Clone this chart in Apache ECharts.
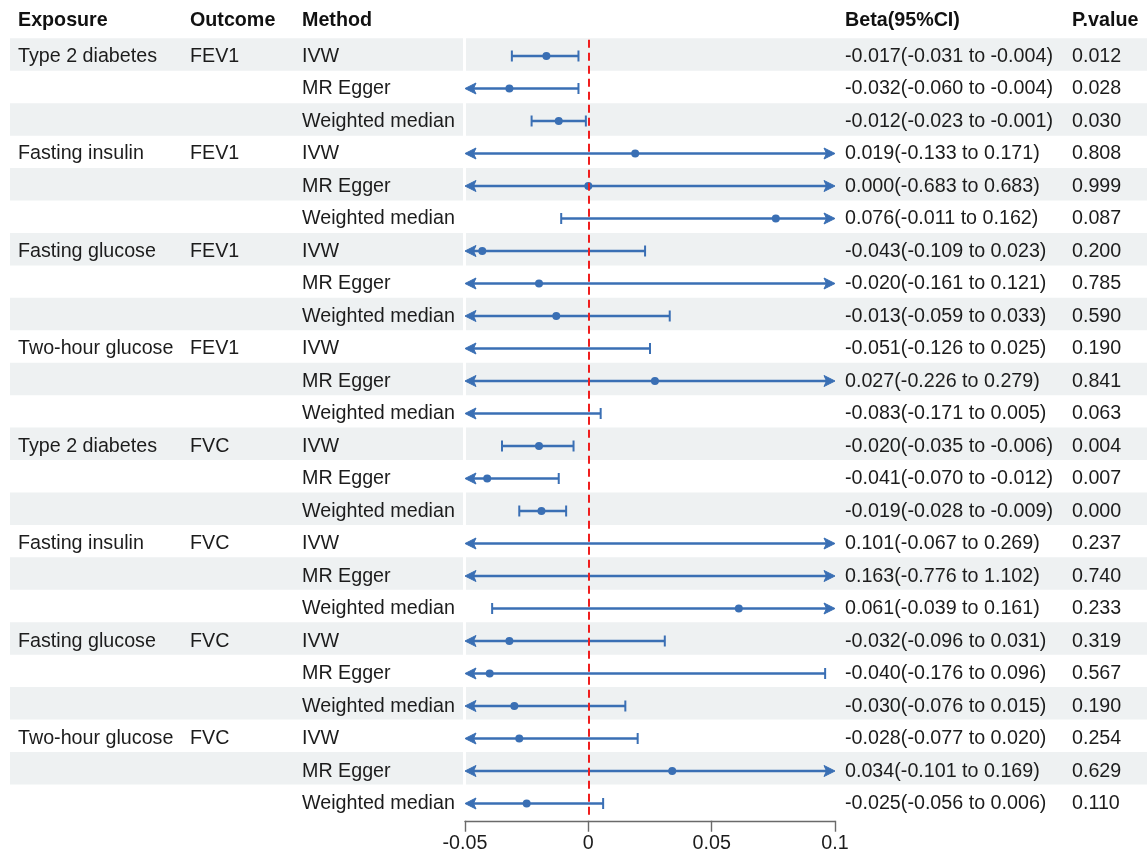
<!DOCTYPE html>
<html>
<head>
<meta charset="utf-8">
<script src="https://cdn.jsdelivr.net/npm/echarts@6/dist/echarts.min.js"></script>
<style>
  html, body { margin: 0; padding: 0; background: #fff; }
  #chart { width: 1147px; height: 856px; }
</style>
</head>
<body>
<div id="chart"></div>
<script>
// 数据
const exposures = ['Type 2 diabetes', 'Fasting insulin', 'Fasting glucose', 'Two-hour glucose',
  'Type 2 diabetes', 'Fasting insulin', 'Fasting glucose', 'Two-hour glucose'];
const outcomes = ['FEV1', 'FEV1', 'FEV1', 'FEV1', 'FVC', 'FVC', 'FVC', 'FVC'];
const methods = ['IVW', 'MR Egger', 'Weighted median'];

const beta = [
  -0.017, -0.032, -0.012,
  0.019, 0.000, 0.076,
  -0.043, -0.020, -0.013,
  -0.051, 0.027, -0.083,
  -0.020, -0.041, -0.019,
  0.101, 0.163, 0.061,
  -0.032, -0.040, -0.030,
  -0.028, 0.034, -0.025
];
const lower = [
  -0.031, -0.060, -0.023,
  -0.133, -0.683, -0.011,
  -0.109, -0.161, -0.059,
  -0.126, -0.226, -0.171,
  -0.035, -0.070, -0.028,
  -0.067, -0.776, -0.039,
  -0.096, -0.176, -0.076,
  -0.077, -0.101, -0.056
];
const upper = [
  -0.004, -0.004, -0.001,
  0.171, 0.683, 0.162,
  0.023, 0.121, 0.033,
  0.025, 0.279, 0.005,
  -0.006, -0.012, -0.009,
  0.269, 1.102, 0.161,
  0.031, 0.096, 0.015,
  0.020, 0.169, 0.006
];
const pValue = [
  '0.012', '0.028', '0.030',
  '0.808', '0.999', '0.087',
  '0.200', '0.785', '0.590',
  '0.190', '0.841', '0.063',
  '0.004', '0.007', '0.000',
  '0.237', '0.740', '0.233',
  '0.319', '0.567', '0.190',
  '0.254', '0.629', '0.110'
];
const xTicks = [-0.05, 0, 0.05, 0.1];

const XMIN = -0.05, XMAX = 0.1;
const FONT = "'Liberation Sans', Arial, sans-serif";
const FS = 19.7;
const BLUE = '#3a6fb4';
const TXT = '#1c1c1c';

const rows = [];
const rowIdx = [];
exposures.forEach((e, g) => {
  methods.forEach((m, k) => {
    const i = g * 3 + k;
    rowIdx.push(i);
    rows.push({
      exposure: k === 0 ? e : '',
      outcome: k === 0 ? outcomes[g] : '',
      method: m,
      ci: beta[i].toFixed(3) + '(' + lower[i].toFixed(3) + ' to ' + upper[i].toFixed(3) + ')',
      p: pValue[i]
    });
  });
});

const chart = echarts.init(document.getElementById('chart'));

// 背景条纹 (稍微上移)
function renderBand(params, api) {
  const i = api.value(0);
  if (i % 2 !== 0) return null;
  const c = api.coord([XMIN, i]);
  const h = api.size([0, 1])[1];
  const top = c[1] - h / 2 - 1.5 - i * 0.06;
  return {
    type: 'group',
    children: [
      { type: 'rect', shape: { x: 10, y: top, width: 453, height: h }, style: { fill: '#eef1f2' } },
      { type: 'rect', shape: { x: 466, y: top, width: 681, height: h }, style: { fill: '#eef1f2' } }
    ]
  };
}

// 箭头
function arrow(x, y, dir) {
  return {
    type: 'polygon',
    shape: { points: [[x, y], [x + dir * 11, y - 5.5], [x + dir * 8.5, y], [x + dir * 11, y + 5.5]] },
    style: { fill: BLUE, stroke: BLUE, lineWidth: 1, lineJoin: 'round' }
  };
}

// 误差线
function renderErr(params, api) {
  const i = api.value(0);
  const lo = api.value(1), hi = api.value(2), b = api.value(3);
  const l = Math.max(lo, XMIN), r = Math.min(hi, XMAX);
  const pl = api.coord([l, i]);
  const pr = api.coord([r, i]);
  const y = pl[1];
  const ch = [];
  ch.push({ type: 'line', shape: { x1: pl[0] + (lo < XMIN ? 5 : 0), y1: y, x2: pr[0] - (hi > XMAX ? 5 : 0), y2: y }, style: { stroke: BLUE, lineWidth: 2.6 } });
  if (lo < XMIN) {
    ch.push(arrow(pl[0], y, 1));
  } else {
    ch.push({ type: 'line', shape: { x1: pl[0], y1: y - 5.5, x2: pl[0], y2: y + 5.5 }, style: { stroke: BLUE, lineWidth: 2 } });
  }
  if (hi > XMAX) {
    ch.push(arrow(pr[0], y, -1));
  } else {
    ch.push({ type: 'line', shape: { x1: pr[0], y1: y - 5.5, x2: pr[0], y2: y + 5.5 }, style: { stroke: BLUE, lineWidth: 2 } });
  }
  if (b >= XMIN && b <= XMAX) {
    const pb = api.coord([b, i]);
    ch.push({ type: 'circle', shape: { cx: pb[0], cy: y, r: 4 }, style: { fill: BLUE } });
  }
  return { type: 'group', children: ch };
}

// 表格文字
function renderText(params, api) {
  const i = api.value(0);
  const y = api.coord([XMIN, i])[1] + 0.5;
  const row = rows[i];
  const mk = (x, t) => ({
    type: 'text', x: x, y: y,
    style: { text: t, fill: TXT, font: FS + 'px ' + FONT, textVerticalAlign: 'middle', textAlign: 'left' }
  });
  return {
    type: 'group',
    children: [mk(18, row.exposure), mk(190, row.outcome), mk(302, row.method), mk(845, row.ci), mk(1072, row.p)]
  };
}

const header = [
  ['Exposure', 18], ['Outcome', 190], ['Method', 302], ['Beta(95%CI)', 845], ['P.value', 1072]
];

const option = {
  animation: false,
  backgroundColor: '#fff',
  grid: { left: 465, right: 312, top: 39.75, bottom: 36.25 },
  xAxis: {
    type: 'value',
    min: XMIN,
    max: XMAX,
    interval: 0.05,
    offset: 1,
    axisLine: { show: true, lineStyle: { color: '#6a6a6a', width: 1.4 } },
    axisTick: { show: true, length: 11, lineStyle: { color: '#6a6a6a', width: 1.4 } },
    axisLabel: {
      margin: 13, color: TXT, fontSize: FS, fontFamily: FONT,
      formatter: v => {
        const t = xTicks.find(x => Math.abs(x - v) < 1e-9);
        return t === undefined ? '' : String(t);
      }
    },
    splitLine: { show: false }
  },
  yAxis: {
    type: 'category',
    inverse: true,
    data: rowIdx,
    show: false
  },
  graphic: header.map(h => ({
    type: 'text', left: h[1], top: 11,
    style: { text: h[0], fill: '#111', font: 'bold ' + FS + 'px ' + FONT }
  })),
  series: [
    {
      type: 'custom', name: 'band', z: 1,
      renderItem: renderBand,
      data: rowIdx.map(i => [i]),
      encode: { y: 0 }
    },
    {
      type: 'line', name: 'zero', z: 2, data: [],
      markLine: {
        silent: true, symbol: 'none', label: { show: false },
        lineStyle: { color: '#f01e1e', type: [8, 5], width: 2 },
        data: [{ xAxis: 0 }]
      }
    },
    {
      type: 'custom', name: 'ci', z: 3,
      renderItem: renderErr,
      data: rowIdx.map(i => [i, lower[i], upper[i], beta[i]]),
      encode: { y: 0, x: [1, 2] }
    },
    {
      type: 'custom', name: 'table', z: 4,
      renderItem: renderText,
      data: rowIdx.map(i => [i]),
      encode: { y: 0 }
    }
  ]
};

chart.setOption(option);
</script>
</body>
</html>
